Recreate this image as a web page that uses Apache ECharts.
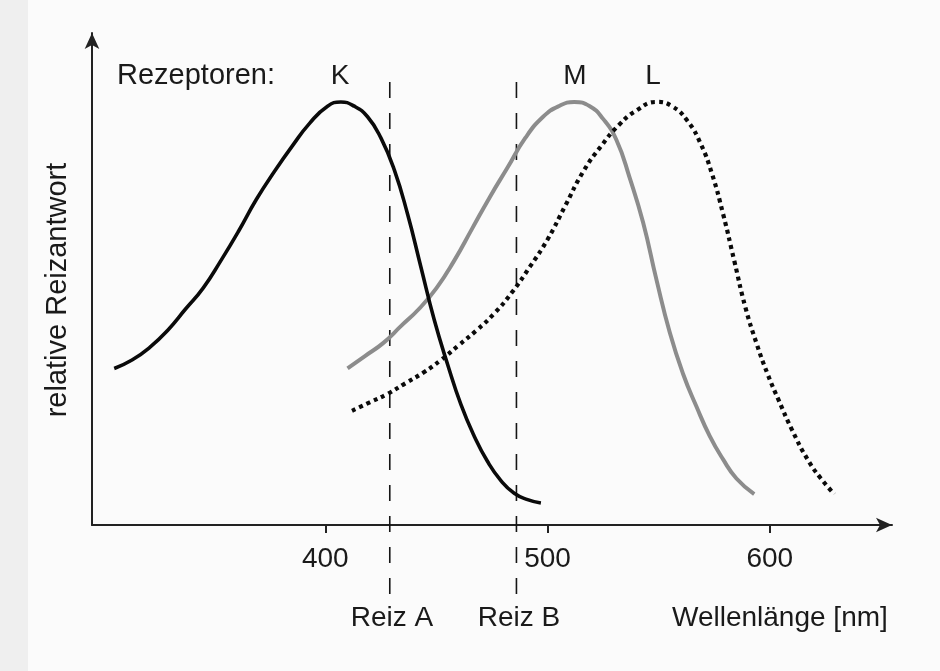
<!DOCTYPE html>
<html>
<head>
<meta charset="utf-8">
<script src="https://cdn.jsdelivr.net/npm/echarts@6/dist/echarts.min.js"></script>
<style>
html,body{margin:0;padding:0;background:#fbfbfb;}
#chart{width:940px;height:671px;}
</style>
</head>
<body>
<div id="chart"></div>
<script>
// Wavelength [nm], relative response
const kPoints = [[305,0.37],[313,0.39],[321,0.42],[329,0.46],[337,0.51],[345,0.56],[353,0.625],[361,0.695],[369,0.77],[377,0.835],[385,0.895],[393,0.95],[401,0.99],[407,1.0],[413,0.99],[419,0.965],[425,0.915],[431,0.84],[437,0.735],[443,0.61],[449,0.485],[455,0.38],[461,0.285],[467,0.21],[473,0.15],[479,0.105],[485,0.075],[491,0.06],[497,0.052]];
const mPoints = [[410,0.37],[418,0.40],[426,0.43],[434,0.47],[442,0.51],[450,0.56],[458,0.625],[466,0.70],[474,0.775],[482,0.845],[490,0.915],[498,0.965],[505,0.99],[512,1.0],[519,0.99],[525,0.96],[531,0.91],[537,0.82],[543,0.715],[549,0.58],[555,0.455],[561,0.357],[567,0.28],[573,0.21],[579,0.155],[585,0.11],[593,0.073]];
const lPoints = [[412,0.27],[420,0.29],[428,0.31],[436,0.335],[444,0.36],[452,0.39],[460,0.425],[468,0.46],[476,0.50],[484,0.55],[492,0.61],[500,0.675],[508,0.755],[516,0.835],[524,0.895],[532,0.945],[540,0.98],[549,1.0],[556,0.99],[563,0.955],[569,0.9],[574,0.83],[579,0.735],[584,0.625],[589,0.515],[594,0.43],[599,0.357],[604,0.295],[610,0.225],[617,0.155],[623,0.11],[629,0.073]];
const tickValues = [400, 500, 600];
const stimuli = [429, 486];
const stimulusNames = ['Reiz A', 'Reiz B'];
const stimulusExtent = [1.047, -0.17];
const receptorNames = ['K', 'M', 'L'];
const xLabel = 'Wellenlänge [nm]';
const yLabel = 'relative Reizantwort';
const headLabel = 'Rezeptoren:';

const FONT = "'Liberation Sans', Arial, Helvetica, sans-serif";
const FS = 28;
const chart = echarts.init(document.getElementById('chart'));

const stimSeries = stimuli.map(w => ({
  type: 'line',
  data: [[w, stimulusExtent[0]], [w, stimulusExtent[1]]],
  symbol: 'none',
  clip: false,
  silent: true,
  lineStyle: {color: '#151515', width: 1.6, type: [16, 15]},
  z: 3
}));

const txt = (x, y, text, align, extra, size) => Object.assign({
  type: 'text', x: x, y: y,
  style: {text: text, font: (size || FS) + 'px ' + FONT, fill: '#1a1a1a', textAlign: align || 'center', textVerticalAlign: 'middle'}
}, extra || {});

const curve = (name, data, style, z) => ({
  type: 'line', name: name, data: data, smooth: 0.5,
  symbol: 'none', lineStyle: style, z: z
});

chart.setOption({
  backgroundColor: '#fbfbfb',
  animation: false,
  grid: {left: 92, right: 48, top: 33, bottom: 146},
  xAxis: {
    type: 'value', min: 295, max: 655,
    splitLine: {show: false},
    axisLine: {show: true, onZero: false, symbol: ['none', 'arrow'], symbolSize: [11, 16], lineStyle: {color: '#222', width: 2}},
    axisTick: {show: true, customValues: tickValues, length: 8, lineStyle: {color: '#222', width: 2}},
    axisLabel: {show: true, customValues: tickValues, margin: 20, fontSize: FS, fontFamily: FONT, color: '#1a1a1a'}
  },
  yAxis: {
    type: 'value', min: 0, max: 1.163,
    splitLine: {show: false},
    axisLine: {show: true, symbol: ['none', 'arrow'], symbolSize: [11, 16], lineStyle: {color: '#222', width: 2}},
    axisTick: {show: false},
    axisLabel: {show: false}
  },
  series: [
    curve(receptorNames[0], kPoints, {color: '#0a0a0a', width: 3.6}, 5),
    curve(receptorNames[1], mPoints, {color: '#8c8c8c', width: 4}, 4),
    curve(receptorNames[2], lPoints, {color: '#0a0a0a', width: 4.2, type: [4, 4], cap: 'butt'}, 4)
  ].concat(stimSeries),
  graphic: [
    {type: 'rect', shape: {x: 0, y: 0, width: 28, height: 671}, style: {fill: '#efefef'}, z: -10, silent: true},
    txt(117, 76, headLabel, 'left', null, 29),
    txt(340, 76, receptorNames[0]),
    txt(575, 76, receptorNames[1]),
    txt(653, 76, receptorNames[2]),
    txt(392, 618, stimulusNames[0]),
    txt(519, 618, stimulusNames[1]),
    txt(672, 618, xLabel, 'left'),
    txt(58, 290, yLabel, 'center', {rotation: Math.PI / 2}, 29)
  ]
});
</script>
</body>
</html>
